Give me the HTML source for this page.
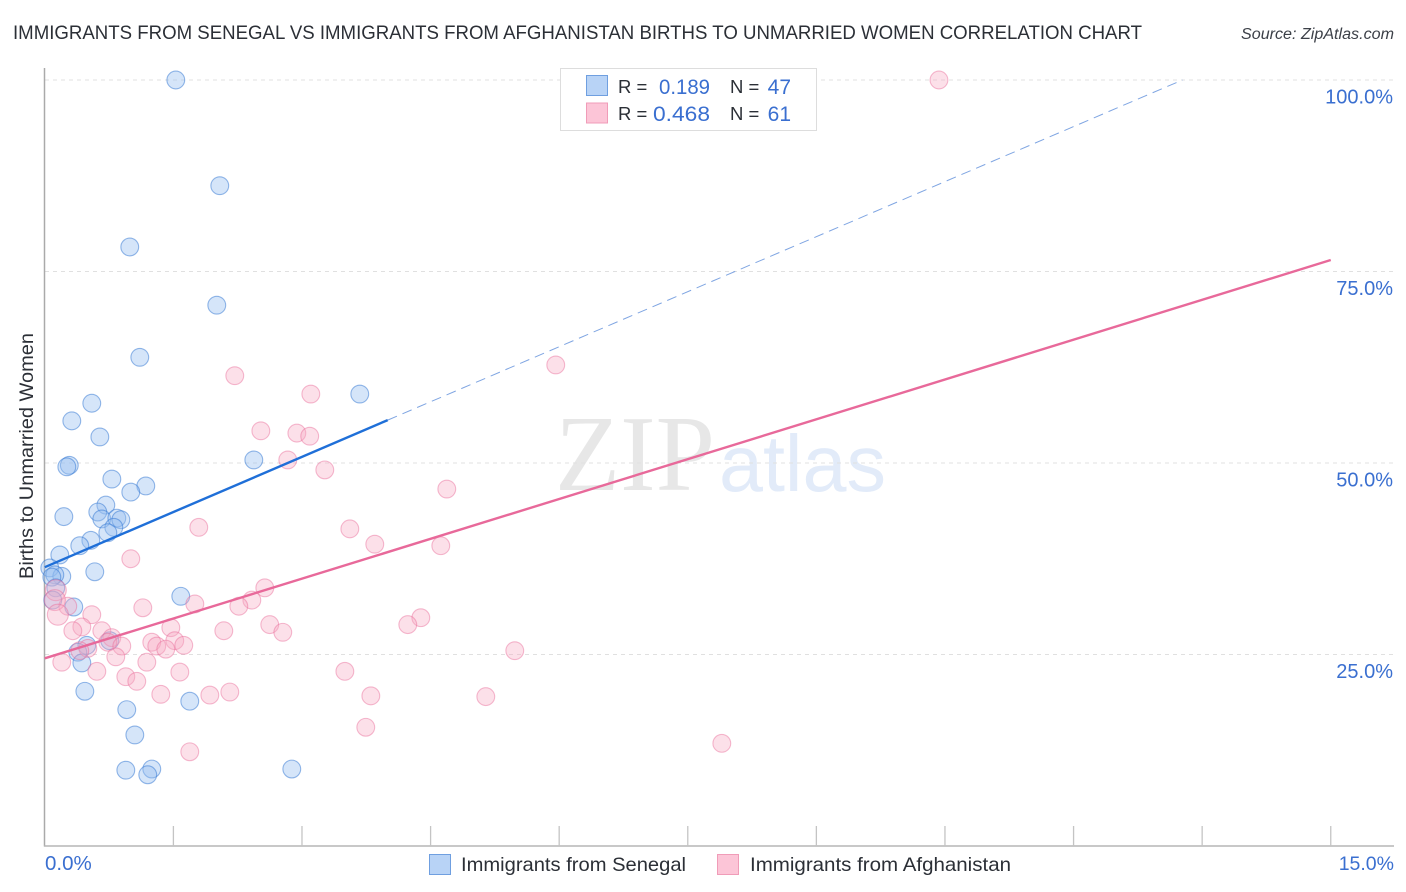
<!DOCTYPE html>
<html lang="en">
<head>
<meta charset="utf-8">
<title>Immigrants from Senegal vs Immigrants from Afghanistan Births to Unmarried Women Correlation Chart</title>
<style>
html,body{margin:0;padding:0;background:#fff;}
body{width:1406px;height:892px;overflow:hidden;}
svg{display:block;font-family:"Liberation Sans",sans-serif;}
</style>
</head>
<body>
<svg id="chart" width="1406" height="892" viewBox="0 0 1406 892" xmlns="http://www.w3.org/2000/svg">
  <text x="13" y="39" font-size="19" fill="#2b2f36" textLength="1129" lengthAdjust="spacingAndGlyphs">IMMIGRANTS FROM SENEGAL VS IMMIGRANTS FROM AFGHANISTAN BIRTHS TO UNMARRIED WOMEN CORRELATION CHART</text>
  <text x="1241" y="39" font-size="15.5" font-style="italic" fill="#3c4048" textLength="153" lengthAdjust="spacingAndGlyphs">Source: ZipAtlas.com</text>

  <g>
    <text x="555" y="490" font-family="'Liberation Serif',serif" font-size="108" fill="#e7e7e7" textLength="160" lengthAdjust="spacingAndGlyphs">ZIP</text>
    <text x="719" y="491" font-size="80" fill="#e2ebf9" textLength="167" lengthAdjust="spacingAndGlyphs">atlas</text>
  </g>

  <g id="grid"></g>
  <g id="axes"></g>
  <g id="points"></g>
  <g id="trends"></g>
  <g id="labels"></g>

  <text transform="translate(33,579) rotate(-90)" font-size="19" fill="#2b2f36" textLength="246" lengthAdjust="spacingAndGlyphs">Births to Unmarried Women</text>

  <g>
    <rect x="560.5" y="68.5" width="256" height="62" fill="#fff" stroke="#dddddd" stroke-width="1"/>
    <rect x="586.5" y="75.5" width="21" height="20" fill="#b8d3f6" stroke="#6f9fe0" stroke-width="1"/>
    <rect x="586.5" y="103" width="21" height="20" fill="#fcc5d7" stroke="#f09cb8" stroke-width="1"/>
    <text x="618" y="93" font-size="18.5" fill="#2b2f36">R =</text>
    <text x="659" y="94" font-size="21" fill="#3a6fd0" textLength="51" lengthAdjust="spacingAndGlyphs">0.189</text>
    <text x="730" y="93" font-size="18.5" fill="#2b2f36">N =</text>
    <text x="791" y="94" font-size="21" fill="#3a6fd0" text-anchor="end">47</text>
    <text x="618" y="120" font-size="18.5" fill="#2b2f36">R =</text>
    <text x="653" y="121" font-size="21.5" fill="#3a6fd0" textLength="57" lengthAdjust="spacingAndGlyphs">0.468</text>
    <text x="730" y="120" font-size="18.5" fill="#2b2f36">N =</text>
    <text x="791" y="121" font-size="21" fill="#3a6fd0" text-anchor="end">61</text>
  </g>

  <g>
    <rect x="429.5" y="854.5" width="21" height="20" fill="#b8d3f6" stroke="#6f9fe0" stroke-width="1"/>
    <text x="461" y="871" font-size="19.5" fill="#2b2f36" textLength="225" lengthAdjust="spacingAndGlyphs">Immigrants from Senegal</text>
    <rect x="717.5" y="854.5" width="21" height="20" fill="#fcc5d7" stroke="#f09cb8" stroke-width="1"/>
    <text x="750" y="871" font-size="19.5" fill="#2b2f36" textLength="261" lengthAdjust="spacingAndGlyphs">Immigrants from Afghanistan</text>
  </g>
</svg>
<script>
var senegalX = [1.528,2.041,0.991,2.006,1.108,3.674,0.548,0.315,0.642,0.286,0.257,2.438,0.782,1.178,1.003,0.712,0.618,0.222,0.665,0.840,0.887,0.805,0.735,0.537,0.408,0.175,0.583,0.058,0.198,0.117,0.082,1.586,0.128,0.093,0.338,0.490,0.758,0.385,0.432,0.467,1.691,0.956,1.050,0.945,1.248,1.201,2.881];
var senegalY = [100,86.2,78.2,70.6,63.8,59.0,57.8,55.5,53.4,49.7,49.5,50.4,47.9,47.0,46.2,44.5,43.6,43.0,42.7,42.8,42.6,41.6,40.9,39.9,39.2,38.0,35.8,36.3,35.2,35.4,35.1,32.6,33.7,32.1,31.2,26.2,26.8,25.3,23.9,20.2,18.9,17.8,14.5,9.9,10.05,9.3,10.05];
var afghanistanX = [10.43,5.96,2.216,3.103,2.52,2.94,3.09,2.834,3.266,4.689,1.796,3.558,3.849,4.619,1.003,2.566,0.128,2.415,1.75,2.263,1.143,0.268,0.117,0.152,0.548,4.386,4.234,2.624,2.776,1.47,2.088,0.432,0.327,0.665,0.782,0.735,0.898,1.248,1.516,1.306,1.411,1.621,0.502,5.482,0.408,0.828,0.198,1.19,0.607,3.5,1.575,0.945,1.073,1.353,1.925,2.158,3.803,5.144,3.744,1.691,7.897];
var afghanistanY = [100,62.8,61.4,59.0,54.2,53.9,53.5,50.4,49.1,46.6,41.6,41.4,39.4,39.2,37.5,33.7,33.4,32.1,31.6,31.3,31.1,31.3,32.1,30.2,30.2,29.8,28.9,28.9,27.9,28.5,28.1,28.6,28.1,28.1,27.2,26.6,26.1,26.6,26.8,26.1,25.7,26.2,25.8,25.5,25.5,24.7,24.0,24.0,22.8,22.8,22.7,22.1,21.5,19.8,19.7,20.1,19.6,19.5,15.5,12.3,13.4];
var senegalTrendX = [0,4.0,13.27];
var senegalTrendY = [36.4,55.6,100];
var afghanistanTrendX = [0,15];
var afghanistanTrendY = [24.5,76.5];
var xTicks = [0,1.5,3,4.5,6,7.5,9,10.5,12,13.5,15];
var yTicks = [25,50,75,100];
var yTickLabels = ["25.0%","50.0%","75.0%","100.0%"];
var xEndLabels = ["0.0%","15.0%"];

var NS = "http://www.w3.org/2000/svg";
function xScale(v){ return 44.8 + v * 85.73; }
function yScale(v){ return 846 - v * 7.66; }
function make(tag, attrs, parent){
  var el = document.createElementNS(NS, tag);
  for (var k in attrs) el.setAttribute(k, attrs[k]);
  document.getElementById(parent).appendChild(el);
  return el;
}

yTicks.forEach(function(t, i){
  var line = make("line", {x1:45, x2:1393, y1:yScale(t), y2:yScale(t), stroke:"#e0e0e0", "stroke-width":1, "stroke-dasharray":"4 4"}, "grid");
  
  
  var label = make("text", {x:1393, y:yScale(t)+23.5, "font-size":20, fill:"#3a6fd0", "text-anchor":"end"}, "labels");
  label.textContent = yTickLabels[i];
  
  
});

var yAxis = make("line", {x1:44.5, x2:44.5, y1:68, y2:846.5, stroke:"#aaaaaa", "stroke-width":1.5}, "axes");


var xAxis = make("line", {x1:44, x2:1394, y1:846, y2:846, stroke:"#b5b5b5", "stroke-width":1.5}, "axes");


xTicks.slice(1).forEach(function(t){
  var tick = make("line", {x1:xScale(t), x2:xScale(t), y1:826, y2:846, stroke:"#c4c4c4", "stroke-width":1.3}, "axes");
  
  
});

var xLeft = make("text", {x:45, y:870, "font-size":20.5, fill:"#3a6fd0"}, "labels");
xLeft.textContent = xEndLabels[0];


var xRight = make("text", {x:1394, y:870, "font-size":19.5, fill:"#3a6fd0", "text-anchor":"end"}, "labels");
xRight.textContent = xEndLabels[1];



senegalX.forEach(function(v, i){
  var c = make("circle", {cx:xScale(v), cy:yScale(senegalY[i]), r:8.9, fill:"rgba(150,190,240,0.4)", stroke:"rgba(45,115,210,0.5)", "stroke-width":1.1}, "points");
  
  
});
afghanistanX.forEach(function(v, i){
  var c = make("circle", {cx:xScale(v), cy:yScale(afghanistanY[i]), r:(v < 0.2 && afghanistanY[i] > 29 && afghanistanY[i] < 34) ? 10.5 : 8.9, fill:"rgba(248,170,195,0.36)", stroke:"rgba(232,105,150,0.45)", "stroke-width":1.1}, "points");
  
  
});

var blueSolid = make("line", {x1:xScale(senegalTrendX[0]), y1:yScale(senegalTrendY[0]), x2:xScale(senegalTrendX[1]), y2:yScale(senegalTrendY[1]), stroke:"#1f6fd8", "stroke-width":2.4}, "trends");


var blueDash = make("line", {x1:xScale(senegalTrendX[1]), y1:yScale(senegalTrendY[1]), x2:xScale(senegalTrendX[2]), y2:yScale(senegalTrendY[2]), stroke:"#7fa5e2", "stroke-width":1, "stroke-dasharray":"10 6"}, "trends");


var pinkLine = make("line", {x1:xScale(afghanistanTrendX[0]), y1:yScale(afghanistanTrendY[0]), x2:xScale(afghanistanTrendX[1]), y2:yScale(afghanistanTrendY[1]), stroke:"#e8699a", "stroke-width":2.4}, "trends");


</script>
</body>
</html>
